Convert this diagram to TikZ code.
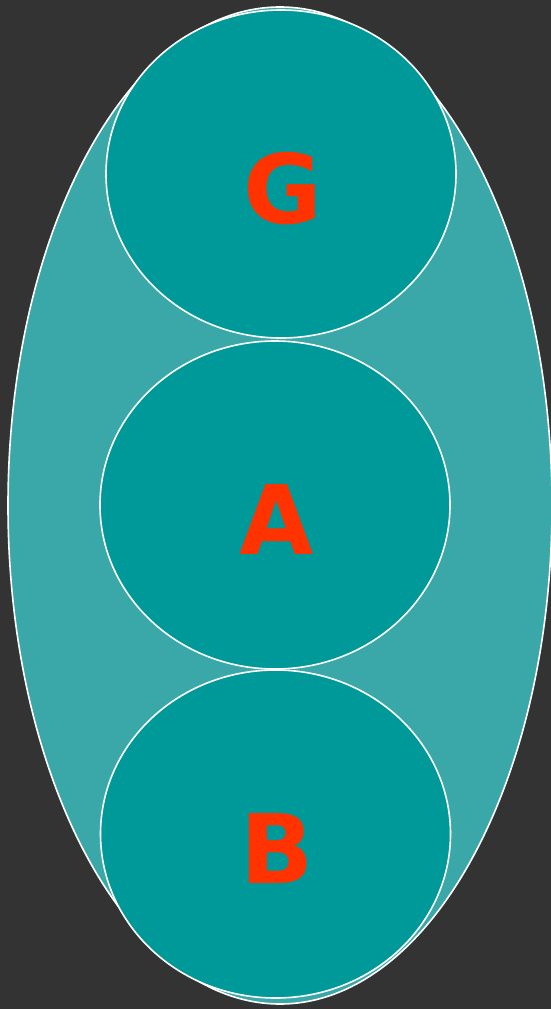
\documentclass[tikz,border=0pt]{standalone}
\usepackage{fontspec}
\setmainfont{DejaVu Sans}
\definecolor{bg}{HTML}{333333}
\definecolor{outerfill}{HTML}{3AA8A8}
\definecolor{innerfill}{HTML}{009999}
\definecolor{lbl}{HTML}{FF3300}
\tikzset{
  outerell/.style={draw=white, line width=1.6pt, fill=outerfill},
  innerell/.style={draw=white, line width=1.6pt, fill=innerfill},
  lettr/.style={text=lbl, font=\fontsize{96}{100}\selectfont\bfseries, inner sep=0pt, anchor=center}
}
\begin{document}
\begin{tikzpicture}[x=1pt,y=-1pt]
\fill[bg] (0,0) rectangle (551,1009);
\useasboundingbox (0,0) rectangle (551,1009);
\draw[outerell] (280,505.5) ellipse [x radius=272, y radius=498.5];
\draw[innerell] (281,174) ellipse [x radius=175, y radius=164];
\draw[innerell] (275,505) ellipse [x radius=175, y radius=164];
\draw[innerell] (275.5,834) ellipse [x radius=175, y radius=164];
\node[lettr] (g) at (283,189) {G};
\node[lettr] (a) at (277,520) {A};
\node[lettr] (b) at (277,848) {B};
\end{tikzpicture}
\end{document}
